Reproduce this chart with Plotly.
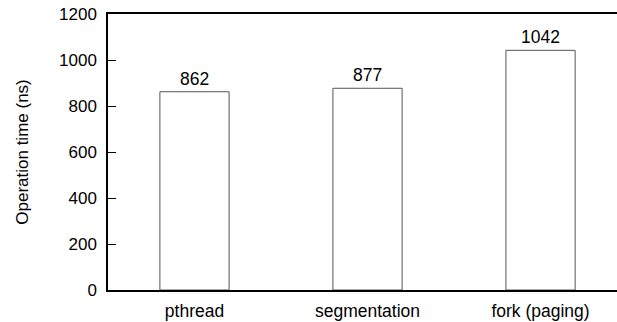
import plotly.graph_objects as go

# Operation time per mechanism
categories = ["pthread", "segmentation", "fork (paging)"]
op_time_ns = [862, 877, 1042]
y_ticks = [0, 200, 400, 600, 800, 1000, 1200]

FONT = "Liberation Sans, Arial, sans-serif"

fig = go.Figure(
    go.Bar(
        x=categories,
        y=op_time_ns,
        width=0.4,
        marker=dict(color="white", line=dict(color="#555555", width=1)),
        text=[str(v) for v in op_time_ns],
        textposition="outside",
        textfont=dict(family=FONT, size=17.5, color="black"),
        cliponaxis=False,
    )
)

fig.update_layout(
    width=617,
    height=322,
    margin=dict(l=108, r=0, t=14, b=32),
    paper_bgcolor="white",
    plot_bgcolor="white",
    showlegend=False,
    font=dict(family=FONT, color="black"),
    xaxis=dict(
        range=[-0.5, 2.442],
        showline=True,
        linecolor="black",
        linewidth=1.5,
        mirror=True,
        ticks="",
        showgrid=False,
        tickfont=dict(size=17.5),
        ticklabelstandoff=4,
    ),
    yaxis=dict(
        range=[0, 1200],
        tickvals=y_ticks,
        showline=True,
        linecolor="black",
        linewidth=1.5,
        ticks="inside",
        ticklen=8,
        tickcolor="black",
        showgrid=False,
        zeroline=False,
        tickfont=dict(size=17),
        ticklabelstandoff=6,
        title=dict(text="Operation time (ns)", font=dict(size=17), standoff=26),
    ),
)

fig.write_html("out.html")
